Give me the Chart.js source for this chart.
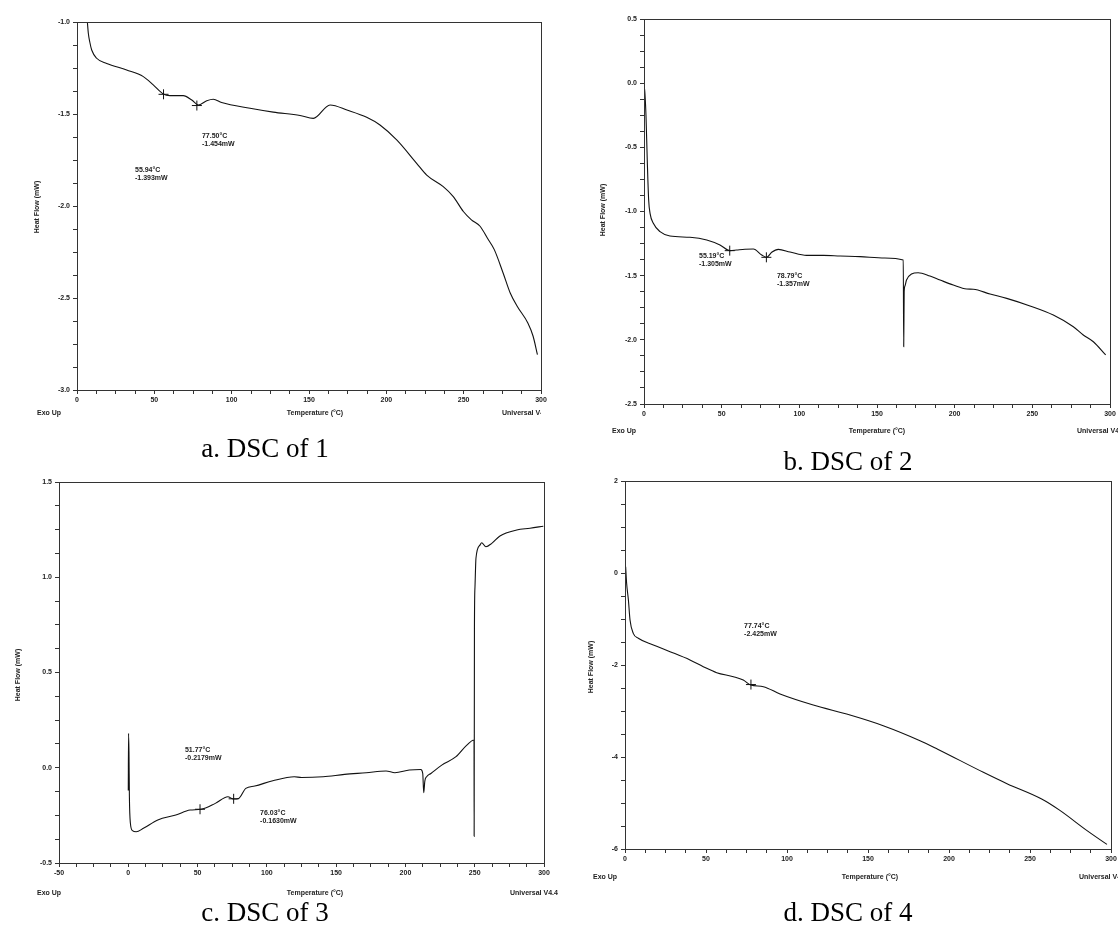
<!DOCTYPE html>
<html>
<head>
<meta charset="utf-8">
<script src="https://cdn.jsdelivr.net/npm/chart.js@4.4.1/dist/chart.umd.min.js"></script>
<style>
  body { margin:0; background:#fff; overflow:hidden; }
  #page { position:relative; width:1118px; height:929px; overflow:hidden; }
  .plot { position:absolute; }
  #labels { position:absolute; left:0; top:0; }
  .cap { position:absolute; font:27px "Liberation Serif", "Times New Roman", serif; color:#000; transform:translate(-50%,-50%); white-space:nowrap; }
</style>
</head>
<body>
<div id="page">
  <canvas id="dscA" class="plot"></canvas>
  <canvas id="dscB" class="plot"></canvas>
  <canvas id="dscC" class="plot"></canvas>
  <canvas id="dscD" class="plot"></canvas>
  <canvas id="labels" width="1118" height="929"></canvas>

  <div class="cap" style="left:265px;top:448px;">a. DSC of 1</div>
  <div class="cap" style="left:848px;top:461px;">b. DSC of 2</div>
  <div class="cap" style="left:265px;top:912px;">c. DSC of 3</div>
  <div class="cap" style="left:848px;top:912px;">d. DSC of 4</div>
</div>

<script>
// ===== Data: temperature (°C) / heat flow (mW) =====
const tA = [6.7, 7.3, 8.3, 9.5, 12.7, 19.2, 32.1, 42.9, 49.3, 55.8, 60.1, 68.7, 74.2, 78.4, 83.9, 88.1, 93.5, 111.9, 126.9, 144.2,
            152.8, 163.6, 175, 187.3, 195.9, 206.7, 219.6, 226.1, 236.8, 243.3, 249.8, 255, 260.6, 265.3, 269.8, 275.5, 280.1, 284.6, 291.5, 294.9, 297.7];
const hA = [-1.0, -1.06, -1.11, -1.152, -1.197, -1.225, -1.261, -1.297, -1.342, -1.391, -1.40, -1.40, -1.424, -1.451, -1.428, -1.42, -1.438, -1.469, -1.49, -1.508,
            -1.524, -1.451, -1.48, -1.518, -1.56, -1.641, -1.768, -1.832, -1.895, -1.949, -2.03, -2.075, -2.11, -2.174, -2.237, -2.364, -2.473, -2.545, -2.636, -2.708, -2.808];
const markTA = [55.94, 77.50];
const markHA = [-1.393, -1.454];

const tB = [0.2, 0.6, 1.3, 2.1, 3.0, 3.9, 6.0, 10.3, 16.7, 29.6, 40.4, 48.9, 55.4, 59.7, 65, 70.4, 75.8, 79.0, 82.2, 86.5,
            94.0, 104.7, 115.5, 126.2, 139, 155, 166.9, 167.2, 167.5, 168, 169, 172.2, 176.5, 184.1, 190.6, 199.1, 207.8, 212, 222.8, 233.5,
            248.5, 263.5, 276.4, 282.8, 289.3, 297.2];
const hB = [-0.03, -0.08, -0.26, -0.60, -0.91, -1.014, -1.092, -1.157, -1.191, -1.201, -1.222, -1.261, -1.305, -1.30, -1.294, -1.292, -1.339, -1.357, -1.318, -1.295,
            -1.316, -1.342, -1.342, -1.347, -1.352, -1.362, -1.378, -2.053, -1.625, -1.58, -1.534, -1.487, -1.477, -1.503, -1.534, -1.573, -1.604, -1.606, -1.643, -1.677,
            -1.736, -1.807, -1.898, -1.962, -2.015, -2.118];
const markTB = [55.19, 78.79];
const markHB = [-1.305, -1.357];

const tC = [0, 0.2, 0.5, 0.8, 1.5, 3, 5.7, 10.9, 21.3, 34.3, 44.6, 52.4, 62.8, 71.9, 75.8, 79.6, 84.8, 91.3, 104.3, 119.8,
            125, 140.6, 156.1, 171.7, 186, 192.4, 202.8, 211.1, 212.5, 213.2, 214, 215.3, 218.4, 226.2, 236.5, 244.3, 249.5, 249.6, 249.8, 250.2,
            250.9, 253.8, 255, 258.1, 262.3, 268.2, 280.3, 289.9, 299.5];
const hC = [-0.12, 0.18, 0.08, -0.15, -0.29, -0.33, -0.336, -0.318, -0.274, -0.248, -0.222, -0.218, -0.187, -0.152, -0.164, -0.161, -0.108, -0.096, -0.068, -0.047,
            -0.051, -0.047, -0.035, -0.026, -0.017, -0.026, -0.012, -0.009, -0.03, -0.131, -0.07, -0.047, -0.03, 0.014, 0.058, 0.119, 0.146, -0.36, 0.73, 0.95,
            1.1, 1.169, 1.181, 1.16, 1.178, 1.217, 1.248, 1.257, 1.268];
const markTC = [51.77, 76.03];
const markHC = [-0.2179, -0.1630];

const tD = [0.4, 1, 2.1, 3.1, 5.1, 8.2, 17.5, 27.8, 40.1, 48.3, 56.6, 66.9, 73, 77.6, 85.4, 95.7, 116.2, 138.9, 159.4, 182.1,
            193, 221.2, 235.8, 257.2, 268, 285.2, 297.5];
const hD = [0.137, -0.224, -0.587, -1.022, -1.312, -1.42, -1.565, -1.71, -1.891, -2.036, -2.167, -2.254, -2.326, -2.435, -2.471, -2.63, -2.87, -3.087, -3.319, -3.645,
            -3.83, -4.333, -4.58, -4.913, -5.15, -5.6, -5.9];
const markTD = [77.74];
const markHD = [-2.425];

// ===== Plugins =====
const FONT = '"Liberation Sans", Arial, sans-serif';

const framePlugin = {
  id: 'frame',
  afterDraw(chart){
    const {ctx, chartArea:a} = chart;
    ctx.save();
    ctx.strokeStyle = '#333';
    ctx.lineWidth = 1;
    ctx.strokeRect(Math.round(a.left)+0.5, Math.round(a.top)+0.5, Math.round(a.right-a.left), Math.round(a.bottom-a.top));
    ctx.restore();
  }
};

// value labels next to the marked points
const notesPlugin = {
  id: 'notes',
  afterDatasetsDraw(chart, args, opts){
    const {ctx, scales:{x, y}} = chart;
    ctx.save();
    ctx.font = 'bold 7px ' + FONT;
    ctx.fillStyle = '#222';
    ctx.textBaseline = 'top';
    (opts.items || []).forEach(n => {
      const px = x.getPixelForValue(n.at[0]), py = y.getPixelForValue(n.at[1]);
      n.lines.forEach((s, i) => ctx.fillText(s, px, py + i*8));
    });
    ctx.restore();
  }
};

// ===== Build =====
const isMajor = (v, step) => Math.abs(v/step - Math.round(v/step)) < 1e-6;

function makeDsc(id, box, temps, flows, markT, markH, ax, notePos){
  const padL = 45, padT = 8, padR = 12, padB = 22;
  const cv = document.getElementById(id);
  cv.width = (box.r - box.l) + padL + padR;
  cv.height = (box.b - box.t) + padT + padB;
  cv.style.left = (box.l - padL) + 'px';
  cv.style.top = (box.t - padT) + 'px';

  const curve = temps.map((t, i) => ({x: t, y: flows[i]}));
  const marks = markT.map((t, i) => ({x: t, y: markH[i]}));
  const notes = markT.map((t, i) => ({
    lines: [t.toFixed(2) + '°C', markH[i].toPrecision(4) + 'mW'],
    at: notePos[i]
  }));

  const tickFont = {family: FONT, size: 7, weight: 'bold'};
  const grid = {drawOnChartArea: false, drawTicks: true, tickLength: 4, color: '#333'};

  return new Chart(cv, {
    type: 'line',
    data: {datasets: [
      {data: curve, borderColor: '#111', borderWidth: 1.1, pointRadius: 0, cubicInterpolationMode: 'monotone', fill: false},
      {type: 'scatter', data: marks, pointStyle: 'cross', pointRadius: 5, borderColor: '#111', borderWidth: 1, backgroundColor: '#111'}
    ]},
    options: {
      responsive: false, animation: false, events: [],
      layout: {padding: {left: 0, top: padT, right: padR, bottom: 0}},
      plugins: {legend: {display: false}, tooltip: {enabled: false}, notes: {items: notes}},
      scales: {
        x: {
          type: 'linear', min: ax.xMin, max: ax.xMax,
          border: {display: false}, grid,
          ticks: {stepSize: ax.xMinor, maxTicksLimit: 200, autoSkip: false, maxRotation: 0, padding: 2, color: '#222', font: tickFont,
                  callback: v => isMajor(v, ax.xMajor) ? String(Math.round(v)) : ''},
          afterFit: s => { s.height = padB; }
        },
        y: {
          type: 'linear', min: ax.yMin, max: ax.yMax,
          border: {display: false}, grid,
          ticks: {stepSize: ax.yMinor, maxTicksLimit: 200, autoSkip: false, padding: 3, color: '#222', font: tickFont,
                  callback: v => isMajor(v, ax.yMajor) ? v.toFixed(ax.yDec) : ''},
          afterFit: s => { s.width = padL; }
        }
      }
    },
    plugins: [framePlugin, notesPlugin]
  });
}

makeDsc('dscA', {l: 77, t: 22, r: 541, b: 390}, tA, hA, markTA, markHA,
  {xMin: 0, xMax: 300, xMajor: 50, xMinor: 12.5, yMin: -3, yMax: -1, yMajor: 0.5, yMinor: 0.125, yDec: 1},
  [[37.5, -1.788], [80.8, -1.603]]);

makeDsc('dscB', {l: 644, t: 19, r: 1110, b: 404}, tB, hB, markTB, markHB,
  {xMin: 0, xMax: 300, xMajor: 50, xMinor: 12.5, yMin: -2.5, yMax: 0.5, yMajor: 0.5, yMinor: 0.125, yDec: 1},
  [[35.4, -1.323], [85.6, -1.479]]);

makeDsc('dscC', {l: 59, t: 482, r: 544, b: 863}, tC, hC, markTC, markHC,
  {xMin: -50, xMax: 300, xMajor: 50, xMinor: 12.5, yMin: -0.5, yMax: 1.5, yMajor: 0.5, yMinor: 0.125, yDec: 1},
  [[40.9, 0.109], [95.1, -0.222]]);

makeDsc('dscD', {l: 625, t: 481, r: 1111, b: 849}, tD, hD, markTD, markHD,
  {xMin: 0, xMax: 300, xMajor: 50, xMinor: 12.5, yMin: -6, yMax: 2, yMajor: 2, yMinor: 0.5, yDec: 0},
  [[73.5, -1.087]]);

// ===== Axis captions (instrument printout text) =====
function drawCaptions(){
  const ctx = document.getElementById('labels').getContext('2d');
  ctx.font = 'bold 7px ' + FONT;
  ctx.fillStyle = '#222';
  ctx.textBaseline = 'middle';
  // [yLabelX, yLabelY, bottomY, exoX, tempX, univX, clipRight]
  const rows = [
    [37, 207, 413, 37, 315, 502, 541],
    [603, 210, 431, 612, 877, 1077, 1118],
    [18, 675, 893, 37, 315, 510, 1118],
    [591, 667, 877, 593, 870, 1079, 1118]
  ];
  rows.forEach(([yx, yy, by, ex, tx, ux, clip]) => {
    ctx.save();
    ctx.translate(yx, yy);
    ctx.rotate(-Math.PI/2);
    ctx.textAlign = 'center';
    ctx.fillText('Heat Flow (mW)', 0, 0);
    ctx.restore();

    ctx.textAlign = 'left';
    ctx.fillText('Exo Up', ex, by);
    ctx.textAlign = 'center';
    ctx.fillText('Temperature (°C)', tx, by);
    ctx.save();
    ctx.beginPath();
    ctx.rect(ux, by - 6, clip - ux, 12);
    ctx.clip();
    ctx.textAlign = 'left';
    ctx.fillText('Universal V4.4', ux, by);
    ctx.restore();
  });
}
drawCaptions();
</script>
</body>
</html>
